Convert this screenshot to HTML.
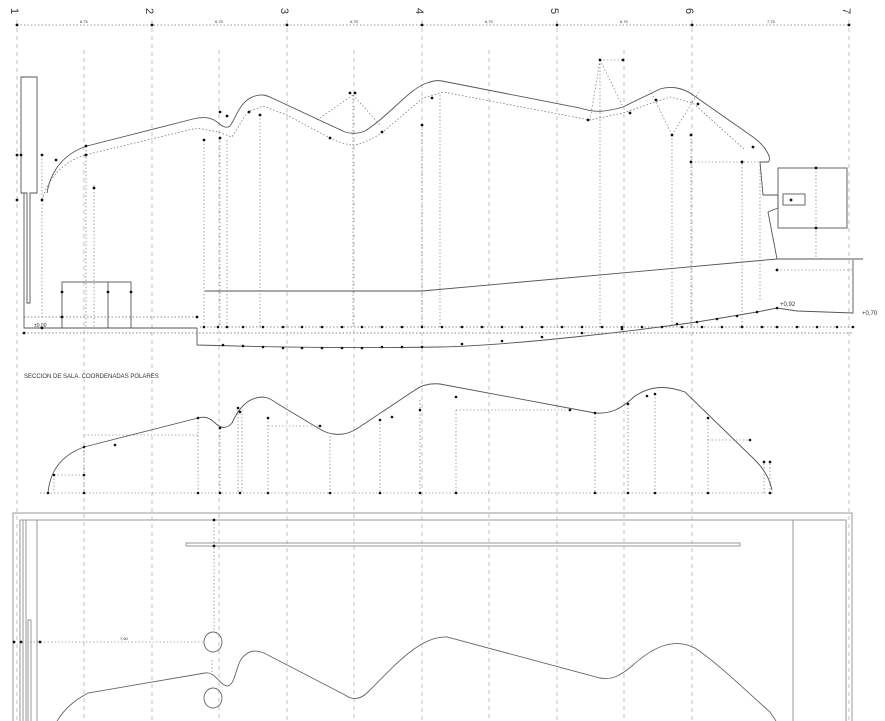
<!DOCTYPE html>
<html><head><meta charset="utf-8"><style>
html,body{margin:0;padding:0;background:#fff;width:885px;height:721px;overflow:hidden}
svg{display:block}
text{font-family:"Liberation Sans",sans-serif;fill:#333}
</style></head><body>
<svg width="885" height="721" viewBox="0 0 885 721" xmlns="http://www.w3.org/2000/svg">
<g stroke="#aaa" stroke-width="0.7" stroke-dasharray="4,4" fill="none">
<line x1="17" y1="20" x2="17" y2="721"/>
<line x1="84" y1="50" x2="84" y2="721"/>
<line x1="152" y1="20" x2="152" y2="721"/>
<line x1="219" y1="50" x2="219" y2="721"/>
<line x1="287" y1="20" x2="287" y2="721"/>
<line x1="354" y1="50" x2="354" y2="721"/>
<line x1="422" y1="20" x2="422" y2="721"/>
<line x1="489" y1="50" x2="489" y2="721"/>
<line x1="557" y1="20" x2="557" y2="721"/>
<line x1="624" y1="50" x2="624" y2="721"/>
<line x1="692" y1="20" x2="692" y2="721"/>
<line x1="849" y1="20" x2="849" y2="721"/>
</g>
<g font-size="11" fill="#333">
<text x="13" y="18" transform="rotate(90 17 12)">1</text>
<text x="148" y="18" transform="rotate(90 152 12)">2</text>
<text x="283" y="18" transform="rotate(90 287 12)">3</text>
<text x="418" y="18" transform="rotate(90 422 12)">4</text>
<text x="553" y="18" transform="rotate(90 557 12)">5</text>
<text x="688" y="18" transform="rotate(90 692 12)">6</text>
<text x="845" y="18" transform="rotate(90 849 12)">7</text>
</g>
<line x1="17" y1="25" x2="849" y2="25" stroke="#777" stroke-width="0.7" stroke-dasharray="1.5,2"/>
<g fill="#111"><circle cx="17" cy="25" r="1.4"/><circle cx="152" cy="25" r="1.4"/><circle cx="287" cy="25" r="1.4"/><circle cx="422" cy="25" r="1.4"/><circle cx="557" cy="25" r="1.4"/><circle cx="692" cy="25" r="1.4"/><circle cx="849" cy="25" r="1.4"/></g>
<g font-size="4" fill="#444"><text x="80" y="23">6,75</text><text x="215" y="23">6,75</text><text x="350" y="23">6,75</text><text x="485" y="23">6,75</text><text x="620" y="23">6,75</text><text x="767" y="23">7,75</text></g>

<!-- Section 1 -->
<g stroke="#555" stroke-width="0.9" fill="none">
<path d="M47,193 C50,175 60,155 87,146 L193,119 C205,116 212,118 217,122 C222,126 226,129 230,126 C236,118 240,100 255,96 C262,94 266,95 272,98 L345,132 C352,134 358,134 365,131 C390,115 410,88 427,83 C432,81 437,80 442,81 L580,108 C595,113 605,112 623,107 L660,89 C670,86 682,87 693,95 L753,137 C768,148 772,160 768,162 L760,162 L763,195 L778,195 L778,208 L768,212 L777,259 L863,259"/>
<path d="M205,291 L422,291 L777,259"/>
<rect x="778" y="168" width="69" height="60"/>
<rect x="783" y="194" width="22" height="11"/>
<path d="M21,77 L37,77 L37,193 L30,193 L30,303 L27,303 L27,193 L21,193 Z"/>
<path d="M24,193 L24,328 L197,328"/>
<rect x="62" y="282" width="69" height="46"/>
<line x1="108" y1="282" x2="108" y2="328"/>
<path d="M197,328 L197,345 C300,348 380,348 440,347 C520,345 640,330 697,322 L757,312 L777,308 L797,311 L853,313 L853,260"/>
</g>
<g stroke="#666" stroke-width="0.7" stroke-dasharray="1.5,2" fill="none">
<path d="M42,200 C48,180 60,163 85,155 L197,128 L218,132 L232,137 C240,125 244,115 250,111 L263,106 L287,115 L330,138 C340,143 348,145 355,145 C365,143 374,138 383,132 L423,98 L443,92 L590,120 L623,113 L670,97 L693,103 L745,150"/>
<path d="M24,333 L853,333"/>
<path d="M200,327 L853,327"/>
<line x1="24" y1="317" x2="197" y2="317"/>
<g stroke-width="0.6">
<line x1="42" y1="155" x2="42" y2="317"/><line x1="86" y1="150" x2="86" y2="327"/><line x1="94" y1="185" x2="94" y2="327"/>
<line x1="204" y1="140" x2="204" y2="327"/><line x1="220" y1="138" x2="220" y2="327"/><line x1="227" y1="140" x2="227" y2="327"/>
<line x1="260" y1="115" x2="260" y2="327"/><line x1="353" y1="95" x2="353" y2="327"/><line x1="422" y1="125" x2="422" y2="327"/>
<line x1="440" y1="95" x2="440" y2="327"/><line x1="600" y1="60" x2="600" y2="327"/><line x1="672" y1="135" x2="672" y2="327"/>
<line x1="691" y1="135" x2="691" y2="327"/><line x1="742" y1="160" x2="742" y2="327"/><line x1="760" y1="162" x2="760" y2="300"/>
<line x1="691" y1="162" x2="760" y2="162"/><line x1="600" y1="60" x2="623" y2="60"/>
<line x1="777" y1="270" x2="853" y2="270"/><line x1="816" y1="168" x2="816" y2="259"/>
<line x1="317" y1="120" x2="353" y2="95"/><line x1="353" y1="95" x2="380" y2="125"/>
<line x1="600" y1="60" x2="590" y2="120"/><line x1="600" y1="60" x2="623" y2="107"/>
<line x1="672" y1="135" x2="650" y2="90"/><line x1="672" y1="135" x2="700" y2="90"/>
</g>
</g>
<g fill="#111">
<circle cx="42" cy="200" r="1.4"/><circle cx="42" cy="155" r="1.4"/><circle cx="86" cy="146" r="1.4"/><circle cx="86" cy="155" r="1.4"/><circle cx="94" cy="188" r="1.4"/><circle cx="56" cy="160" r="1.4"/>
<circle cx="204" cy="140" r="1.4"/><circle cx="220" cy="112" r="1.4"/><circle cx="227" cy="116" r="1.4"/><circle cx="220" cy="138" r="1.4"/><circle cx="260" cy="115" r="1.4"/><circle cx="249" cy="112" r="1.4"/>
<circle cx="350" cy="93" r="1.4"/><circle cx="355" cy="93" r="1.4"/><circle cx="330" cy="138" r="1.4"/><circle cx="382" cy="132" r="1.4"/><circle cx="422" cy="125" r="1.4"/><circle cx="432" cy="98" r="1.4"/>
<circle cx="600" cy="60" r="1.4"/><circle cx="623" cy="60" r="1.4"/><circle cx="588" cy="120" r="1.4"/><circle cx="630" cy="113" r="1.4"/><circle cx="656" cy="100" r="1.4"/><circle cx="698" cy="104" r="1.4"/>
<circle cx="672" cy="135" r="1.4"/><circle cx="691" cy="135" r="1.4"/><circle cx="691" cy="162" r="1.4"/><circle cx="742" cy="162" r="1.4"/><circle cx="753" cy="147" r="1.4"/>
<circle cx="791" cy="200" r="1.4"/><circle cx="816" cy="168" r="1.4"/><circle cx="816" cy="228" r="1.4"/><circle cx="777" cy="270" r="1.4"/>
<circle cx="62" cy="317" r="1.4"/><circle cx="62" cy="292" r="1.4"/><circle cx="108" cy="292" r="1.4"/><circle cx="131" cy="292" r="1.4"/><circle cx="197" cy="317" r="1.4"/><circle cx="42" cy="328" r="1.4"/><circle cx="24" cy="333" r="1.4"/>
<circle cx="17" cy="155" r="1.4"/><circle cx="21" cy="155" r="1.4"/><circle cx="17" cy="200" r="1.4"/>
</g>
<g fill="#111">
<circle cx="204" cy="327" r="1.3"/><circle cx="218" cy="327" r="1.3"/><circle cx="227" cy="327" r="1.3"/><circle cx="243" cy="327" r="1.3"/><circle cx="263" cy="327" r="1.3"/><circle cx="283" cy="327" r="1.3"/><circle cx="302" cy="327" r="1.3"/><circle cx="322" cy="327" r="1.3"/><circle cx="342" cy="327" r="1.3"/><circle cx="362" cy="327" r="1.3"/><circle cx="382" cy="327" r="1.3"/><circle cx="402" cy="327" r="1.3"/><circle cx="422" cy="327" r="1.3"/><circle cx="442" cy="327" r="1.3"/><circle cx="462" cy="327" r="1.3"/><circle cx="482" cy="327" r="1.3"/><circle cx="502" cy="327" r="1.3"/><circle cx="522" cy="327" r="1.3"/><circle cx="542" cy="327" r="1.3"/><circle cx="562" cy="327" r="1.3"/><circle cx="582" cy="327" r="1.3"/><circle cx="602" cy="327" r="1.3"/><circle cx="622" cy="327" r="1.3"/><circle cx="642" cy="327" r="1.3"/><circle cx="662" cy="327" r="1.3"/><circle cx="682" cy="327" r="1.3"/><circle cx="702" cy="327" r="1.3"/><circle cx="722" cy="327" r="1.3"/><circle cx="742" cy="327" r="1.3"/><circle cx="762" cy="327" r="1.3"/><circle cx="777" cy="327" r="1.3"/><circle cx="797" cy="327" r="1.3"/><circle cx="817" cy="327" r="1.3"/><circle cx="837" cy="327" r="1.3"/><circle cx="853" cy="327" r="1.3"/>
<circle cx="223" cy="345" r="1.3"/><circle cx="243" cy="346" r="1.3"/><circle cx="263" cy="347" r="1.3"/><circle cx="283" cy="348" r="1.3"/><circle cx="302" cy="348" r="1.3"/><circle cx="322" cy="348" r="1.3"/><circle cx="342" cy="348" r="1.3"/><circle cx="362" cy="348" r="1.3"/><circle cx="382" cy="347" r="1.3"/><circle cx="402" cy="347" r="1.3"/><circle cx="422" cy="347" r="1.3"/><circle cx="462" cy="344" r="1.3"/><circle cx="502" cy="341" r="1.3"/><circle cx="542" cy="337" r="1.3"/><circle cx="582" cy="333" r="1.3"/><circle cx="622" cy="329" r="1.3"/><circle cx="677" cy="324" r="1.3"/><circle cx="697" cy="322" r="1.3"/><circle cx="717" cy="319" r="1.3"/><circle cx="737" cy="316" r="1.3"/><circle cx="757" cy="312" r="1.3"/><circle cx="777" cy="308" r="1.3"/>
</g>
<text x="780" y="306" font-size="6">+0,92</text>
<text x="862" y="315" font-size="6">+0,70</text>
<text x="34" y="327" font-size="5">±0,00</text>

<!-- Section 2 -->
<text x="24" y="378" font-size="6" fill="#222">SECCION DE SALA. COORDENADAS POLARES</text>
<g stroke="#555" stroke-width="0.9" fill="none">
<path d="M48,493 C50,470 62,455 84,447 L198,418 C205,416 210,418 214,422 C220,428 226,430 232,423 C238,410 246,398 262,397 C268,397 272,400 278,404 L318,428 C330,436 345,437 358,428 L415,390 C422,385 430,383 440,384 L595,413 C610,414 620,410 635,396 C650,386 665,385 685,392 L755,460 C765,470 770,480 772,490"/>
</g>
<g stroke="#666" stroke-width="0.6" stroke-dasharray="1.5,2" fill="none">
<line x1="40" y1="493" x2="775" y2="493"/>
<line x1="84" y1="447" x2="84" y2="493"/><line x1="84" y1="435" x2="198" y2="435"/>
<line x1="198" y1="418" x2="198" y2="493"/><line x1="220" y1="428" x2="220" y2="493"/><line x1="238" y1="410" x2="238" y2="493"/><line x1="242" y1="410" x2="242" y2="493"/>
<line x1="268" y1="418" x2="268" y2="493"/><line x1="268" y1="426" x2="320" y2="426"/><line x1="330" y1="436" x2="330" y2="493"/><line x1="380" y1="420" x2="380" y2="493"/>
<line x1="420" y1="400" x2="420" y2="493"/><line x1="456" y1="410" x2="456" y2="493"/><line x1="456" y1="410" x2="570" y2="410"/>
<line x1="595" y1="413" x2="595" y2="493"/><line x1="628" y1="404" x2="628" y2="493"/><line x1="655" y1="394" x2="655" y2="493"/>
<line x1="708" y1="418" x2="708" y2="493"/><line x1="708" y1="440" x2="750" y2="440"/><line x1="764" y1="460" x2="764" y2="493"/><line x1="770" y1="460" x2="770" y2="493"/>
<line x1="54" y1="475" x2="84" y2="475"/><line x1="54" y1="475" x2="54" y2="493"/>
</g>
<g fill="#111">
<circle cx="48" cy="493" r="1.3"/><circle cx="54" cy="475" r="1.3"/><circle cx="84" cy="447" r="1.3"/><circle cx="84" cy="475" r="1.3"/><circle cx="115" cy="445" r="1.3"/><circle cx="198" cy="418" r="1.3"/><circle cx="220" cy="428" r="1.3"/><circle cx="240" cy="412" r="1.3"/><circle cx="238" cy="408" r="1.3"/><circle cx="268" cy="418" r="1.3"/><circle cx="320" cy="426" r="1.3"/><circle cx="380" cy="420" r="1.3"/><circle cx="392" cy="417" r="1.3"/><circle cx="420" cy="410" r="1.3"/><circle cx="456" cy="397" r="1.3"/><circle cx="570" cy="410" r="1.3"/><circle cx="595" cy="413" r="1.3"/><circle cx="628" cy="404" r="1.3"/><circle cx="647" cy="396" r="1.3"/><circle cx="655" cy="394" r="1.3"/><circle cx="708" cy="418" r="1.3"/><circle cx="750" cy="440" r="1.3"/><circle cx="764" cy="462" r="1.3"/><circle cx="770" cy="462" r="1.3"/>
<circle cx="198" cy="493" r="1.3"/><circle cx="220" cy="493" r="1.3"/><circle cx="240" cy="493" r="1.3"/><circle cx="268" cy="493" r="1.3"/><circle cx="330" cy="493" r="1.3"/><circle cx="380" cy="493" r="1.3"/><circle cx="420" cy="493" r="1.3"/><circle cx="456" cy="493" r="1.3"/><circle cx="595" cy="493" r="1.3"/><circle cx="628" cy="493" r="1.3"/><circle cx="655" cy="493" r="1.3"/><circle cx="708" cy="493" r="1.3"/><circle cx="770" cy="493" r="1.3"/><circle cx="84" cy="493" r="1.3"/>
</g>

<!-- Plan -->
<g stroke="#999" stroke-width="1" fill="none">
<rect x="13" y="513" width="839" height="220"/>
<path d="M20,730 L20,520 L846,520 L846,730"/>
<line x1="793" y1="520" x2="793" y2="721"/>
<line x1="23" y1="520" x2="23" y2="721"/><line x1="26" y1="520" x2="26" y2="721"/><line x1="37" y1="520" x2="37" y2="721"/>
<rect x="186" y="543" width="554" height="3"/>
<path d="M28,721 L28,620 L31,620 L31,721"/>
</g>
<g stroke="#666" stroke-width="0.9" fill="none">
<ellipse cx="213" cy="642" rx="9" ry="10"/>
<ellipse cx="213" cy="698" rx="9" ry="10"/>
<path d="M57,721 C65,708 75,700 88,693 L205,673 C215,671 220,686 228,686 C236,684 236,662 244,656 C250,650 256,650 264,653 L345,695 C352,700 360,700 368,692 C395,665 420,636 447,637 L600,678 C612,680 620,676 632,666 C655,645 675,638 695,648 C720,665 745,690 770,712 L776,721"/>
</g>
<g stroke="#666" stroke-width="0.6" stroke-dasharray="1.5,2"><line x1="214" y1="520" x2="214" y2="632"/><line x1="30" y1="642" x2="204" y2="642"/><line x1="212" y1="660" x2="212" y2="675"/></g>
<g fill="#111"><circle cx="214" cy="520" r="1.4"/><circle cx="214" cy="546" r="1.4"/><circle cx="14" cy="642" r="1.4"/><circle cx="21" cy="642" r="1.4"/><circle cx="40" cy="642" r="1.4"/></g>
<text x="120" y="640" font-size="4">7,60</text>
</svg>
</body></html>
